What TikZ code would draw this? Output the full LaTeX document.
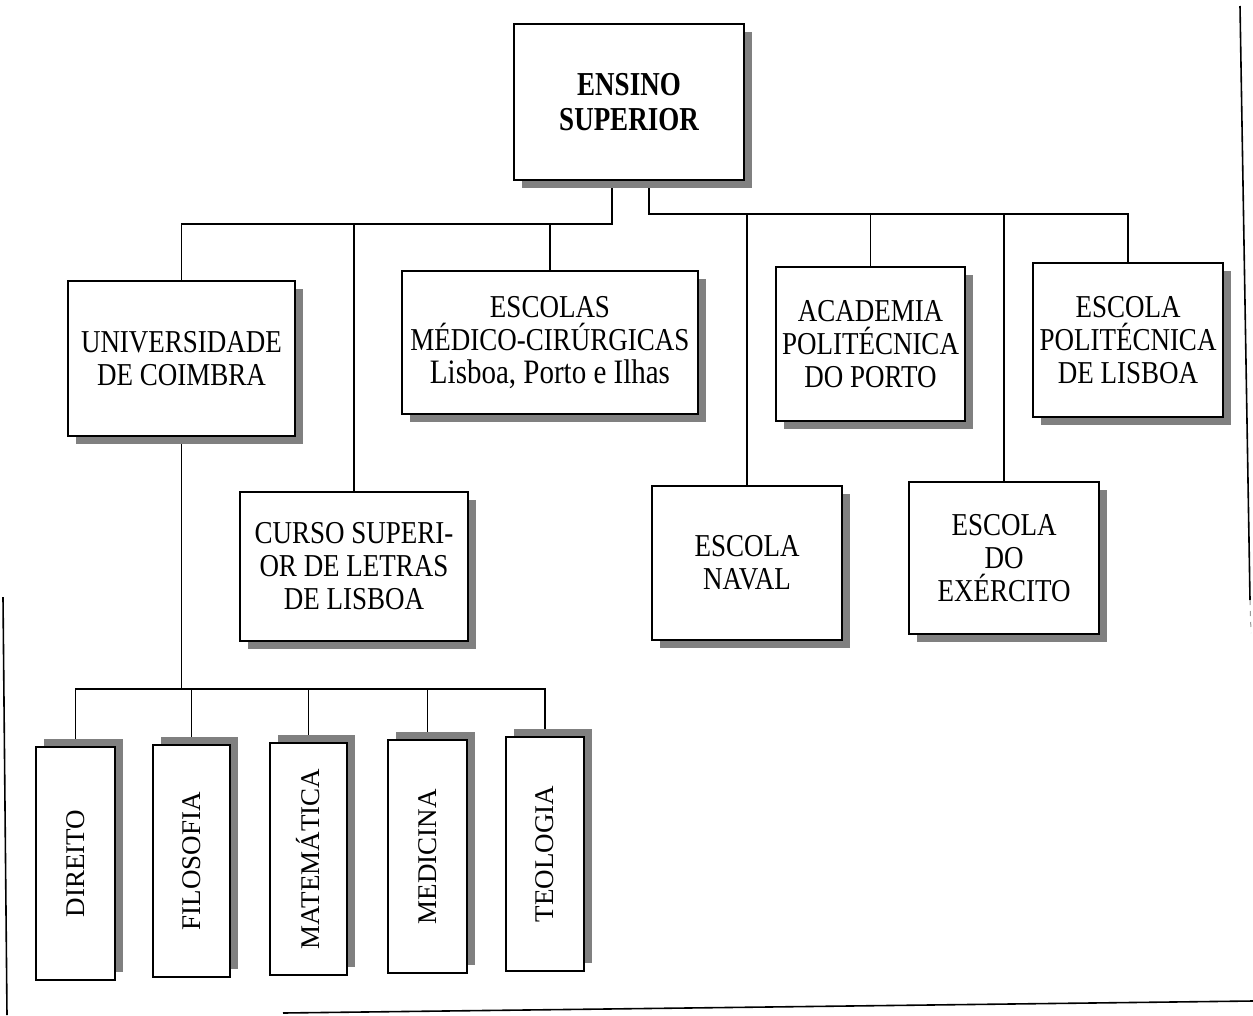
\documentclass[tikz,border=0pt]{standalone}
\usepackage{fontspec}
\setmainfont{Liberation Serif}
\usetikzlibrary{fit,shadows}
\pgfdeclarelayer{paper}
\pgfdeclarelayer{bg}
\pgfsetlayers{paper,bg,main}
\begin{document}
\begin{tikzpicture}[x=1pt,y=-1pt,
  box/.style={draw=black, line width=1.8pt, fill=white, inner sep=0pt},
  shr/.style={drop shadow={shadow xshift=8pt, shadow yshift=-8pt, fill=black!50, opacity=1}},
  shu/.style={drop shadow={shadow xshift=8pt, shadow yshift=8pt, fill=black!50, opacity=1}},
  txt/.style={align=center, inner sep=0pt, yscale=1.18, font=\fontsize{27}{28}\selectfont},
  vtxt/.style={rotate=90, inner sep=0pt, font=\fontsize{27}{29}\selectfont},
  con/.style={line width=1.5pt},
  frameline/.style={line width=1.6pt}]
\begin{pgfonlayer}{paper}
\fill[white] (0,0) rectangle (1253,1015);
\end{pgfonlayer}
\useasboundingbox (0,0) rectangle (1253,1015);

% top
\node[box, shr, fit={(514,24) (744,180)}] (top) {};
\node[txt, yscale=1.05, font=\bfseries\fontsize{27}{28}\selectfont] (topt) at (top.center) {ENSINO\\SUPERIOR};

% second tier
\node[box, shr, fit={(68,281) (295,436)}] (univ) {};
\node[txt] (univt) at (univ.center) {UNIVERSIDADE\\DE COIMBRA};

\node[box, shr, fit={(402,271) (698,414)}] (escolas) {};
\node[txt] (escolast) at (escolas.center) {ESCOLAS\\MÉDICO-CIRÚRGICAS\\{\fontsize{29}{28}\selectfont Lisboa, Porto e Ilhas}};

\node[box, shr, fit={(776,267) (965,421)}] (academia) {};
\node[txt] (academiat) at (academia.center) {ACADEMIA\\POLITÉCNICA\\DO PORTO};

\node[box, shr, fit={(1033,263) (1223,417)}] (politecnica) {};
\node[txt] (politecnicat) at (politecnica.center) {ESCOLA\\POLITÉCNICA\\DE LISBOA};

% third tier
\node[box, shr, fit={(240,492) (468,641)}] (curso) {};
\node[txt] (cursot) at (curso.center) {CURSO SUPERI-\\OR DE LETRAS\\DE LISBOA};

\node[box, shr, fit={(652,486) (842,640)}] (naval) {};
\node[txt] (navalt) at (naval.center) {ESCOLA\\NAVAL};

\node[box, shr, fit={(909,482) (1099,634)}] (exercito) {};
\node[txt] (exercitot) at (exercito.center) {ESCOLA\\DO\\EXÉRCITO};

% faculties
\node[box, shu, fit={(36,747) (115,980)}] (direito) {};
\node[vtxt] (direitot) at (direito.center) {DIREITO};
\node[box, shu, fit={(153,745) (230,977)}] (filosofia) {};
\node[vtxt] (filosofiat) at (filosofia.center) {FILOSOFIA};
\node[box, shu, fit={(270,743) (347,975)}] (matematica) {};
\node[vtxt] (matematicat) at (matematica.center) {MATEMÁTICA};
\node[box, shu, fit={(388,740) (467,973)}] (medicina) {};
\node[vtxt] (medicinat) at (medicina.center) {MEDICINA};
\node[box, shu, fit={(506,737) (584,971)}] (teologia) {};
\node[vtxt] (teologiat) at (teologia.center) {TEOLOGIA};

\coordinate (lb) at (612,224);
\coordinate (rb) at (649,214);
\coordinate (bb) at (univ.south |- 0,689);

\begin{pgfonlayer}{bg}
\draw[con] (top.south -| lb) -- (lb) -| (univ.north);
\draw[con] (lb) -| (curso.north);
\draw[con] (lb) -| (escolas.north);
\draw[con] (top.south -| rb) -- (rb) -| (politecnica.north);
\draw[con] (rb) -| (naval.north);
\draw[con] (rb) -| (academia.north);
\draw[con] (rb) -| (exercito.north);
\draw[con] (univ.south) -- (bb);
\draw[con] (bb) -| (direito.north);
\draw[con] (bb) -| (filosofia.north);
\draw[con] (bb) -| (matematica.north);
\draw[con] (bb) -| (medicina.north);
\draw[con] (bb) -| (teologia.north);
\end{pgfonlayer}

% page frame lines
\draw[frameline] (1240,6) -- (1250,600);
\draw[black!40, line width=1pt, dash pattern=on 5pt off 6pt] (1250,600) -- (1251,633);
\draw[frameline] (3,597) -- (7,1015);
\draw[frameline] (283,1013) -- (1253,1001);
\end{tikzpicture}
\end{document}
